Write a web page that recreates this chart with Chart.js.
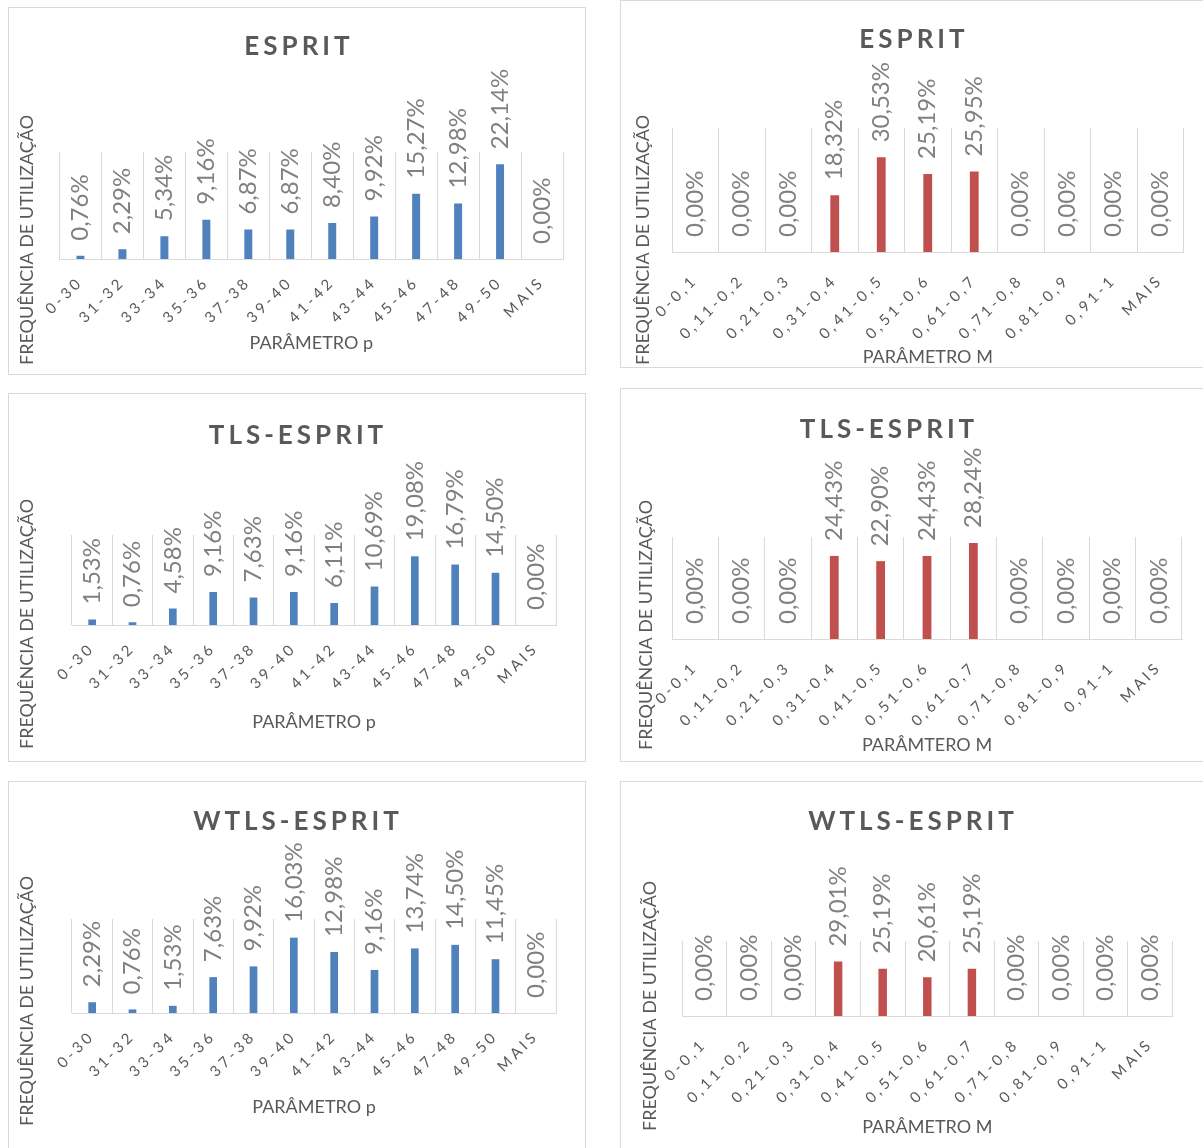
<!DOCTYPE html>
<html>
<head>
<meta charset="utf-8">
<script src="https://cdn.jsdelivr.net/npm/chart.js@4.4.1/dist/chart.umd.min.js"></script>
<style>
  html, body { margin: 0; padding: 0; background: #ffffff; width: 1203px; height: 1148px; overflow: hidden; }
  .panel { position: absolute; border: 1px solid #d9d9d9; box-sizing: border-box; background: #ffffff; }
  .panel canvas { position: absolute; left: 0; top: 0; }
</style>
</head>
<body>
<div class="panel" id="pEspritP"><canvas></canvas></div>
<div class="panel" id="pEspritM"><canvas></canvas></div>
<div class="panel" id="pTlsP"><canvas></canvas></div>
<div class="panel" id="pTlsM"><canvas></canvas></div>
<div class="panel" id="pWtlsP"><canvas></canvas></div>
<div class="panel" id="pWtlsM"><canvas></canvas></div>
<script>
// Category bins
const pCategories = ['0-30', '31-32', '33-34', '35-36', '37-38', '39-40', '41-42', '43-44', '45-46', '47-48', '49-50', 'MAIS'];
const mCategories = ['0-0,1', '0,11-0,2', '0,21-0,3', '0,31-0,4', '0,41-0,5', '0,51-0,6', '0,61-0,7', '0,71-0,8', '0,81-0,9', '0,91-1', 'MAIS'];

// Usage frequency (%) per bin
const espritP = [0.76, 2.29, 5.34, 9.16, 6.87, 6.87, 8.40, 9.92, 15.27, 12.98, 22.14, 0.00];
const espritM = [0.00, 0.00, 0.00, 18.32, 30.53, 25.19, 25.95, 0.00, 0.00, 0.00, 0.00];
const tlsP = [1.53, 0.76, 4.58, 9.16, 7.63, 9.16, 6.11, 10.69, 19.08, 16.79, 14.50, 0.00];
const tlsM = [0.00, 0.00, 0.00, 24.43, 22.90, 24.43, 28.24, 0.00, 0.00, 0.00, 0.00];
const wtlsP = [2.29, 0.76, 1.53, 7.63, 9.92, 16.03, 12.98, 9.16, 13.74, 14.50, 11.45, 0.00];
const wtlsM = [0.00, 0.00, 0.00, 29.01, 25.19, 20.61, 25.19, 0.00, 0.00, 0.00, 0.00];

// Axis maxima (%)
const yMaxima = { espritP: 25, espritM: 40, tlsP: 25, tlsM: 30, wtlsP: 20, wtlsM: 40 };

// Titles
const yTitle = 'FREQUÊNCIA DE UTILIZAÇÃO';
const BLUE = '#4f81bd';
const RED = '#c0504d';
const FONT = 'Lato, "Open Sans", sans-serif';

// Panel layout in page pixels: box [x, y, w, h], plot [left, top, right, bottom]
const panels = [
  { id: 'pEspritP', title: 'ESPRIT', xTitle: 'PARÂMETRO p', labels: pCategories, values: espritP, max: yMaxima.espritP, color: BLUE,
    box: [8, 7, 578, 368], plot: [59.5, 152, 563, 259], titlePos: [297, 47], yTitlePos: [27, 240], xTitleY: 343, tickGap: 14 },
  { id: 'pEspritM', title: 'ESPRIT', xTitle: 'PARÂMETRO M', labels: mCategories, values: espritM, max: yMaxima.espritM, color: RED,
    box: [620, 0, 600, 368], plot: [672, 128, 1183.5, 252], titlePos: [912, 40], yTitlePos: [643, 240], xTitleY: 357, tickGap: 19 },
  { id: 'pTlsP', title: 'TLS-ESPRIT', xTitle: 'PARÂMETRO p', labels: pCategories, values: tlsP, max: yMaxima.tlsP, color: BLUE,
    box: [8, 393, 578, 369], plot: [72, 535, 556, 625], titlePos: [296, 436], yTitlePos: [27, 624], xTitleY: 722, tickGap: 14 },
  { id: 'pTlsM', title: 'TLS-ESPRIT', xTitle: 'PARÂMTERO M', labels: mCategories, values: tlsM, max: yMaxima.tlsM, color: RED,
    box: [620, 388, 600, 374], plot: [672, 537, 1182, 639], titlePos: [887, 430], yTitlePos: [646, 625], xTitleY: 745, tickGap: 19 },
  { id: 'pWtlsP', title: 'WTLS-ESPRIT', xTitle: 'PARÂMETRO p', labels: pCategories, values: wtlsP, max: yMaxima.wtlsP, color: BLUE,
    box: [8, 781, 578, 380], plot: [72, 919, 556, 1013], titlePos: [296, 822], yTitlePos: [27, 1001], xTitleY: 1107, tickGap: 14 },
  { id: 'pWtlsM', title: 'WTLS-ESPRIT', xTitle: 'PARÂMETRO M', labels: mCategories, values: wtlsM, max: yMaxima.wtlsM, color: RED,
    box: [620, 781, 600, 380], plot: [682, 941, 1172.6, 1016], titlePos: [911, 822], yTitlePos: [650, 1006], xTitleY: 1127, tickGap: 19 }
];

const fmtPct = v => v.toFixed(2).replace('.', ',') + '%';

// Draws chart title, rotated value labels and the vertical axis title
const panelDeco = {
  id: 'panelDeco',
  afterDatasetsDraw(chart, args, o) {
    const ctx = chart.ctx;
    const meta = chart.getDatasetMeta(0);
    const data = chart.data.datasets[0].data;
    ctx.save();
    ctx.font = '24px ' + FONT;
    ctx.fillStyle = '#808080';
    ctx.textAlign = 'left';
    ctx.textBaseline = 'middle';
    meta.data.forEach((bar, i) => {
      ctx.save();
      ctx.translate(bar.x, bar.y - 15);
      ctx.rotate(-Math.PI / 2);
      ctx.fillText(fmtPct(data[i]), 0, 0);
      ctx.restore();
    });
    ctx.fillStyle = '#595959';
    ctx.font = 'bold 26px ' + FONT;
    ctx.letterSpacing = '4px';
    ctx.textAlign = 'center';
    ctx.fillText(o.title, o.titleX + 2, o.titleY);
    ctx.letterSpacing = '0px';
    ctx.font = '18px ' + FONT;
    ctx.translate(o.yTitleX, o.yTitleY);
    ctx.rotate(-Math.PI / 2);
    ctx.fillText(yTitle, 0, 0);
    ctx.restore();
    // category labels (drawn in a later layer) get letter spacing
    ctx.letterSpacing = '3.5px';
  },
  afterDraw(chart) {
    chart.ctx.letterSpacing = '0px';
  }
};

panels.forEach(p => {
  const div = document.getElementById(p.id);
  const [bx, by, bw, bh] = p.box;
  div.style.left = bx + 'px';
  div.style.top = by + 'px';
  div.style.width = bw + 'px';
  div.style.height = bh + 'px';
  const ox = bx + 1, oy = by + 1;
  const cw = bw - 2, ch = bh - 2;
  const canvas = div.querySelector('canvas');
  canvas.width = cw; canvas.height = ch;
  canvas.style.width = cw + 'px'; canvas.style.height = ch + 'px';

  const [L, T, R, B] = p.plot;
  const xFont = 18, lh = xFont * 1.2;
  const scaleBottom = p.xTitleY - oy + lh / 2;
  const xh = scaleBottom - (B - oy);

  new Chart(canvas, {
    type: 'bar',
    data: {
      labels: p.labels,
      datasets: [{ data: p.values, backgroundColor: p.color, barPercentage: 0.19, categoryPercentage: 1 }]
    },
    options: {
      responsive: false,
      animation: false,
      layout: { padding: { left: L - ox, top: T - oy, right: cw - (R - ox), bottom: ch - scaleBottom } },
      plugins: {
        legend: { display: false },
        tooltip: { enabled: false },
        panelDeco: {
          title: p.title, titleX: p.titlePos[0] - ox, titleY: p.titlePos[1] - oy,
          yTitleX: p.yTitlePos[0] - ox, yTitleY: p.yTitlePos[1] - oy
        }
      },
      scales: {
        x: {
          afterFit: s => { s.height = xh; },
          grid: { color: '#d9d9d9', lineWidth: 1, drawTicks: false, offset: true },
          border: { color: '#d9d9d9', width: 1 },
          ticks: { z: 1, autoSkip: false, minRotation: 45, maxRotation: 45, padding: p.tickGap, color: '#595959', font: { family: FONT, size: 15 } },
          title: { display: true, text: p.xTitle, color: '#595959', font: { family: FONT, size: xFont }, padding: 0 }
        },
        y: { display: false, min: 0, max: p.max }
      }
    },
    plugins: [panelDeco]
  });
});
</script>
</body>
</html>
